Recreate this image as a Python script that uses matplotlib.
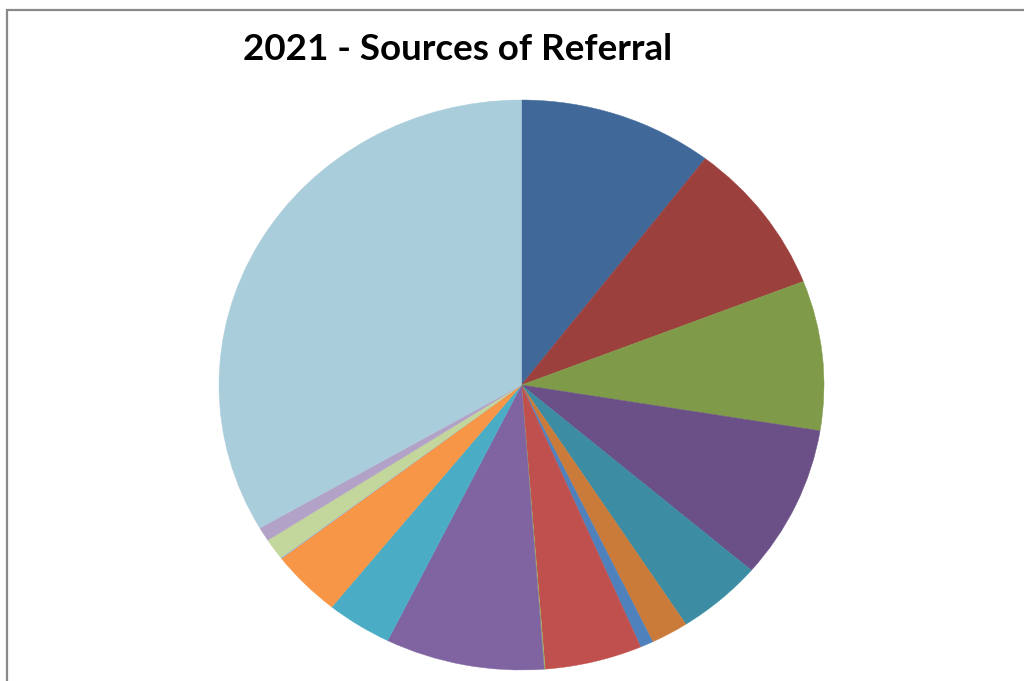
import matplotlib
matplotlib.use("Agg")
import matplotlib.pyplot as plt
from matplotlib.patches import Rectangle

# Referral sources, share of total (%), in clockwise order from 12 o'clock
sources = [
    "Source 1", "Source 2", "Source 3", "Source 4", "Source 5", "Source 6",
    "Source 7", "Source 8", "Source 9", "Source 10", "Source 11", "Source 12",
    "Source 13", "Source 14", "Source 15", "Source 16",
]
shares = [10.4, 8.7, 8.5, 8.7, 4.6, 2.0, 0.7, 5.2, 0.05,
          8.5, 3.5, 3.8, 0.05, 1.2, 0.8, 33.4]
colors = [
    "#40699A", "#9C403E", "#7F9A48", "#6A5086", "#3C8DA3", "#CB7B39",
    "#4F81BD", "#C0504D", "#9BBB59", "#8064A2", "#4BACC6", "#F79646",
    "#95B3D7", "#C3D69B", "#B3A2C7", "#AACDDB",
]
title = "2021 - Sources of Referral"

W, H = 1024, 681
fig = plt.figure(figsize=(W / 100, H / 100), dpi=100)
fig.patch.set_facecolor("white")

# Chart-area border (top and left edges visible)
fig.add_artist(Rectangle((7 / W, -0.2), 1.5, 1.2 - 10 / H,
                         transform=fig.transFigure, fill=False,
                         edgecolor="#8A8A8A", linewidth=1.6))

# Plot area for the pie (slightly wider than tall)
left, right = 219 / W, 824 / W
bottom, top = (H - 670) / H, (H - 100) / H
ax = fig.add_axes([left, bottom, right - left, top - bottom])
wedges, _ = ax.pie(shares, colors=colors, startangle=90, counterclock=False,
                   radius=1.0, wedgeprops=dict(linewidth=0.3))
for w in wedges:
    w.set_edgecolor(w.get_facecolor())
ax.set_aspect("auto")
ax.set_xlim(-1, 1)
ax.set_ylim(-1, 1)
ax.axis("off")

fig.text(458 / W, 1 - 50 / H, title, ha="center", va="center",
         fontsize=26.5, fontweight="bold", family=["Lato", "DejaVu Sans"])

fig.savefig("out.png", dpi=100)
